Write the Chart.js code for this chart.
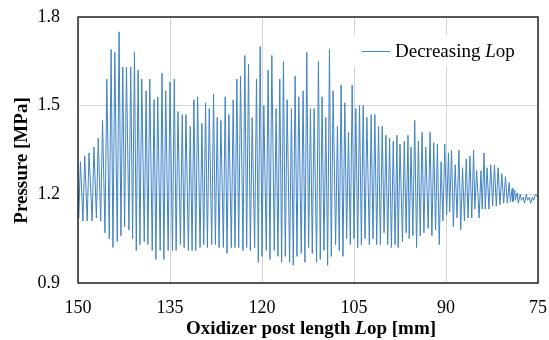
<!DOCTYPE html>
<html>
<head>
<meta charset="utf-8">
<script src="https://cdn.jsdelivr.net/npm/chart.js@4"></script>
<style>
  html, body { margin: 0; padding: 0; background: #fff; }
  canvas { display: block; }
</style>
</head>
<body>
<canvas id="chartPressure" width="549" height="340"></canvas>
<script>

// oxidizer post length [mm], trough / peak pairs
const lop = [
    150.0,
    149.9, 149.6, 149.2, 148.9, 148.5, 148.2, 147.7, 147.4, 147.0, 146.7,
    146.3, 146.0, 145.6, 145.3, 144.9, 144.6, 144.3, 144.0, 143.6, 143.3,
    143.0, 142.7, 142.4, 142.1, 141.7, 141.4, 141.1, 140.8, 140.5, 140.2,
    139.9, 139.6, 139.2, 138.9, 138.6, 138.3, 137.9, 137.6, 137.3, 137.0,
    136.6, 136.3, 136.0, 135.7, 135.3, 135.0, 134.6, 134.3, 134.0, 133.7,
    133.3, 133.0, 132.7, 132.4, 132.0, 131.7, 131.4, 131.1, 130.8, 130.5,
    130.1, 129.8, 129.5, 129.2, 128.9, 128.6, 128.2, 127.9, 127.6, 127.3,
    127.0, 126.7, 126.3, 126.0, 125.7, 125.4, 125.0, 124.7, 124.4, 124.1,
    123.8, 123.5, 123.1, 122.8, 122.5, 122.2, 121.9, 121.6, 121.2, 120.9,
    120.6, 120.3, 120.0, 119.7, 119.3, 119.0, 118.7, 118.4, 118.0, 117.7,
    117.4, 117.1, 116.8, 116.5, 116.2, 115.9, 115.5, 115.2, 114.9, 114.6,
    114.3, 114.0, 113.6, 113.3, 113.0, 112.7, 112.4, 112.1, 111.8, 111.5,
    111.1, 110.8, 110.5, 110.2, 109.9, 109.6, 109.3, 109.0, 108.7, 108.4,
    108.0, 107.7, 107.4, 107.1, 106.8, 106.5, 106.2, 105.9, 105.6, 105.3,
    105.0, 104.7, 104.4, 104.1, 103.8, 103.5, 103.2, 102.9, 102.5, 102.2,
    101.9, 101.6, 101.3, 101.0, 100.7, 100.4, 100.1, 99.8, 99.5, 99.2,
    98.9, 98.6, 98.3, 98.0, 97.8, 97.5, 97.1, 96.8, 96.5, 96.2,
    96.0, 95.7, 95.4, 95.1, 94.8, 94.5, 94.2, 93.9, 93.6, 93.3,
    92.9, 92.6, 92.3, 92.0, 91.7, 91.4, 91.1, 90.8, 90.5, 90.2,
    89.9, 89.6, 89.4, 89.1, 88.8, 88.5, 88.2, 87.9, 87.6, 87.3,
    87.0, 86.7, 86.4, 86.1, 85.8, 85.5, 85.3, 85.0, 84.6, 84.3,
    84.1, 83.8, 83.6, 83.3, 83.0, 82.7, 82.4, 82.1, 81.8, 81.5,
    81.2, 80.9, 80.6, 80.3, 80.0, 79.7, 79.5, 79.2, 79.1, 78.8,
    78.7, 78.4, 78.2, 77.9, 77.7, 77.4, 77.2, 76.9, 76.7, 76.4,
    76.2, 75.9, 75.7, 75.4,
    75.0
];

// pressure [MPa]
const pressure = [
    1.20,
    1.12, 1.31, 1.11, 1.33, 1.11, 1.34, 1.11, 1.36, 1.12, 1.39,
    1.11, 1.45, 1.07, 1.59, 1.05, 1.69, 1.02, 1.68, 1.04, 1.75,
    1.06, 1.63, 1.09, 1.63, 1.08, 1.63, 1.05, 1.68, 1.01, 1.62,
    1.03, 1.59, 1.04, 1.55, 1.03, 1.59, 1.01, 1.52, 0.98, 1.53,
    1.01, 1.61, 0.98, 1.55, 1.01, 1.58, 1.01, 1.59, 1.01, 1.48,
    1.03, 1.47, 1.02, 1.47, 1.01, 1.43, 1.01, 1.52, 1.01, 1.53,
    1.02, 1.44, 1.03, 1.51, 1.02, 1.49, 1.03, 1.54, 1.03, 1.46,
    1.02, 1.45, 1.02, 1.53, 1.00, 1.47, 1.02, 1.52, 1.02, 1.59,
    1.02, 1.60, 1.01, 1.67, 1.02, 1.64, 1.01, 1.46, 1.02, 1.59,
    0.97, 1.70, 0.99, 1.50, 1.01, 1.62, 0.98, 1.67, 1.01, 1.49,
    0.99, 1.59, 0.97, 1.65, 0.99, 1.52, 0.97, 1.49, 0.96, 1.60,
    0.99, 1.53, 1.00, 1.55, 0.97, 1.68, 1.02, 1.49, 1.00, 1.49,
    0.97, 1.65, 0.98, 1.53, 1.01, 1.46, 0.96, 1.69, 0.99, 1.55,
    1.03, 1.43, 1.01, 1.57, 0.99, 1.51, 1.05, 1.41, 1.03, 1.57,
    1.05, 1.49, 1.02, 1.50, 1.03, 1.50, 1.05, 1.46, 1.03, 1.47,
    1.05, 1.47, 1.03, 1.43, 1.03, 1.43, 1.07, 1.40, 1.03, 1.39,
    1.02, 1.38, 1.03, 1.40, 1.02, 1.37, 1.04, 1.38, 1.07, 1.40,
    1.05, 1.36, 1.06, 1.45, 1.02, 1.38, 1.06, 1.41, 1.07, 1.36,
    1.085, 1.41, 1.06, 1.375, 1.08, 1.37, 1.03, 1.31, 1.11, 1.37,
    1.13, 1.34, 1.14, 1.35, 1.09, 1.30, 1.12, 1.35, 1.08, 1.29,
    1.11, 1.32, 1.12, 1.33, 1.12, 1.35, 1.15, 1.28, 1.12, 1.28,
    1.15, 1.34, 1.15, 1.29, 1.15, 1.30, 1.16, 1.30, 1.16, 1.29,
    1.165, 1.27, 1.17, 1.26, 1.17, 1.24, 1.175, 1.22, 1.175, 1.215,
    1.18, 1.205, 1.17, 1.20, 1.18, 1.19, 1.17, 1.20, 1.18, 1.19,
    1.17, 1.19, 1.18, 1.20,
    1.19
];

const xTicks = [150, 135, 120, 105, 90, 75];
const yTicks = [0.9, 1.2, 1.5, 1.8];

const seriesName = ["Decreasing ", "L", "op"];
const xTitle = ["Oxidizer post length ", "L", "op [mm]"];
const yTitle = "Pressure [MPa]";

const serif = "'Liberation Serif', 'Times New Roman', serif";
const lineColor = "#3f82c6";

// draws text pieces in a row, odd pieces italic
function drawMixed(ctx, parts, x, y, size, weight, align) {
    const fonts = parts.map((p, i) => (i % 2 ? "italic " : "") + weight + " " + size + "px " + serif);
    let total = 0;
    parts.forEach((p, i) => { ctx.font = fonts[i]; total += ctx.measureText(p).width; });
    let cx = align === "center" ? x - total / 2 : x;
    ctx.textAlign = "left";
    ctx.textBaseline = "alphabetic";
    parts.forEach((p, i) => {
        ctx.font = fonts[i];
        ctx.fillText(p, cx, y);
        cx += ctx.measureText(p).width;
    });
}

const extras = {
    id: "extras",
    afterDatasetsDraw(chart) {
        const ctx = chart.ctx;
        const a = chart.chartArea;
        ctx.save();
        // legend box
        ctx.fillStyle = "#fff";
        ctx.fillRect(350, 35, 175, 31);
        ctx.strokeStyle = lineColor;
        ctx.lineWidth = 1;
        ctx.beginPath();
        ctx.moveTo(362, 51.5);
        ctx.lineTo(390, 51.5);
        ctx.stroke();
        ctx.fillStyle = "#000";
        drawMixed(ctx, seriesName, 395, 57, 19, "normal", "left");
        // plot border
        ctx.strokeStyle = "#262626";
        ctx.lineWidth = 1.5;
        ctx.strokeRect(a.left, a.top, a.right - a.left, a.bottom - a.top);
        // axis titles
        drawMixed(ctx, xTitle, 311, 334, 19, "bold", "center");
        ctx.translate(27, 160.5);
        ctx.rotate(-Math.PI / 2);
        ctx.font = "bold 19px " + serif;
        ctx.textAlign = "center";
        ctx.fillText(yTitle, 0, 0);
        ctx.restore();
    }
};

const chart = new Chart(document.getElementById("chartPressure").getContext("2d"), {
    type: "line",
    data: {
        datasets: [
            {
                label: seriesName.join(""),
                data: lop.map((x, i) => ({ x: x, y: pressure[i] })),
                borderColor: lineColor,
                borderWidth: 1,
                pointRadius: 0,
                tension: 0,
                fill: false
            }
        ]
    },
    options: {
        responsive: false,
        animation: false,
        devicePixelRatio: 1,
        layout: { padding: { left: 0, right: 11, top: 17, bottom: 0 } },
        plugins: {
            legend: { display: false },
            tooltip: { enabled: false }
        },
        scales: {
            x: {
                type: "linear",
                reverse: true,
                min: 75,
                max: 150,
                afterBuildTicks: s => { s.ticks = xTicks.map(v => ({ value: v })); },
                afterFit: s => { s.height = 57; s.paddingLeft = 0; s.paddingRight = 0; },
                grid: { color: "#d4d4d4", lineWidth: 1, drawTicks: false },
                border: { display: false },
                ticks: {
                    color: "#000",
                    padding: 14,
                    maxRotation: 0,
                    font: { family: serif, size: 18 },
                    callback: v => String(v)
                }
            },
            y: {
                min: 0.9,
                max: 1.8,
                afterBuildTicks: s => { s.ticks = yTicks.map(v => ({ value: v })); },
                afterFit: s => { s.width = 78; s.paddingTop = 0; s.paddingBottom = 0; },
                grid: { color: "#d4d4d4", lineWidth: 1, drawTicks: false },
                border: { display: false },
                ticks: {
                    color: "#000",
                    padding: 18,
                    font: { family: serif, size: 18 },
                    callback: v => v.toFixed(1)
                }
            }
        }
    },
    plugins: [extras]
});

</script>
</body>
</html>
